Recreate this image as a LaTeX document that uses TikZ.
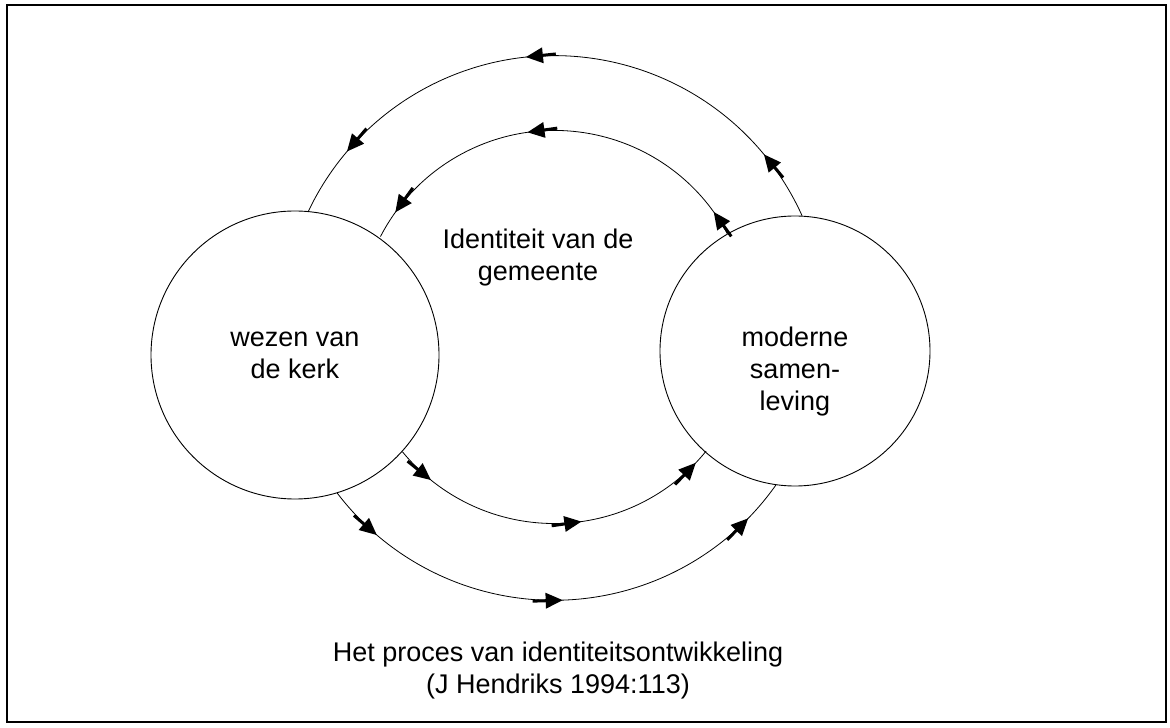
\documentclass[tikz,border=0pt]{standalone}
\usepackage{fontspec}
\setmainfont{Liberation Sans}
\usetikzlibrary{decorations.markings}

\tikzset{
  pole/.style={draw, circle, line width=0.9pt, inner sep=0pt},
  flow/.style={line width=0.8pt},
  lbl/.style={align=center, font=\fontsize{27}{32}\selectfont},
  flowmarks/.style n args={3}{postaction={decorate}, decoration={markings,
      mark=at position #1 with {\flowtip},
      mark=at position #2 with {\flowtip},
      mark=at position #3 with {\flowtip}}}
}
\newcommand{\flowtip}{%
  \draw[line width=3pt] (-30pt,0) -- (-14pt,0);
  \fill (0,0) -- (-17pt,8pt) -- (-17pt,-8pt) -- cycle;}

\begin{document}
\begin{tikzpicture}[x=1pt,y=1pt]
  \useasboundingbox (0,0) rectangle (1170,728);
  \draw[line width=1.5pt] (7,6) rectangle (1166,723);

  % de twee polen
  \node[pole, minimum size=288pt] (wezen) at (295,373) {};
  \node[pole, minimum size=270pt] (samen) at (795,377) {};

  \node[lbl] (wezentxt) at (wezen) {wezen van\\de kerk};
  \node[lbl] (samentxt) at ([yshift=-21pt]samen) {moderne\\samen-\\leving};
  \node[lbl] (ident) at (538,470) {Identiteit van de\\gemeente};

  % boven: terug naar de kerk
  \draw[flow, flowmarks={0.117}{0.55}{0.885}] (samen.87.5) arc[start angle=24.3, end angle=154.6, radius=272];
  \draw[flow, flowmarks={0.06}{0.56}{0.933}] (samen.120.9) arc[start angle=28.25, end angle=152.7, radius=196];
  % onder: naar de samenleving
  \draw[flow, flowmarks={0.116}{0.578}{0.955}] (wezen.-42.4) arc[start angle=219.3, end angle=320.9, radius=196];
  \draw[flow, flowmarks={0.113}{0.508}{0.915}] (wezen.-73.2) arc[start angle=217.3, end angle=324.8, radius=272];

  \node[lbl] (caption) at (558,57) {Het proces van identiteitsontwikkeling\\(J Hendriks 1994:113)};
\end{tikzpicture}
\end{document}
